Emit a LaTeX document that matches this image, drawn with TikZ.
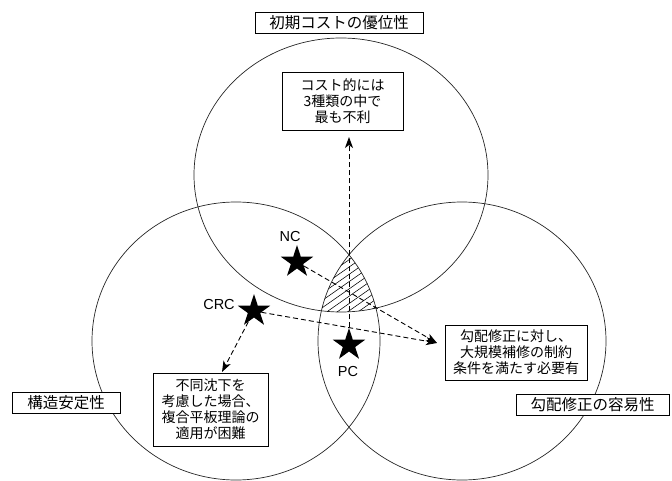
\documentclass[tikz,border=0pt]{standalone}
\usepackage{fontspec}
\setmainfont{Noto Sans CJK JP}
\newfontfamily\latinfont{Liberation Sans}
\usetikzlibrary{shapes.geometric,arrows.meta}
\begin{document}
\begin{tikzpicture}[x=1pt,y=-1pt,
  box/.style={draw, fill=white, line width=0.7pt, inner sep=0pt, align=center},
  lbl/.style={box, font=\fontsize{15.5}{18}\selectfont, minimum height=21pt},
  cmt/.style={box, font=\fontsize{14}{16}\selectfont},
  starnode/.style={star, star points=5, star point ratio=2.618, fill=black, minimum size=34pt, inner sep=0pt},
  tag/.style={font=\latinfont\fontsize{14.5}{16}\selectfont, inner sep=0pt},
  arr/.style={line width=0.9pt, dash pattern=on 5pt off 3pt, -{Stealth[length=11pt,width=8pt,inset=3pt]}},
  ring/.style={line width=0.7pt, draw=black!85},
  hatch/.style={line width=0.55pt}]
\useasboundingbox (0,0) rectangle (672,481);

% circles
\draw[ring] (341,175) ellipse [x radius=147, y radius=137];
\draw[ring] (236,341) ellipse [x radius=144, y radius=139];
\draw[ring] (462,341) ellipse [x radius=144, y radius=139];

% hatched common region
\begin{scope}
  \clip (341,175) ellipse [x radius=147, y radius=137];
  \clip (236,341) ellipse [x radius=144, y radius=139];
  \clip (462,341) ellipse [x radius=144, y radius=139];
  \foreach \c in {250,257.3,...,392} \draw[hatch] (290,\c) -- (410,\c-84);
\end{scope}

% labels
\node[lbl, minimum width=168pt] (title) at (339,22.5) {初期コストの優位性};
\node[lbl, minimum width=108pt] (kozo) at (66,402.5) {構造安定性};
\node[lbl, minimum width=153pt] (kobai) at (592.5,404.5) {勾配修正の容易性};

% comment boxes
\node[cmt, minimum width=121pt, minimum height=58pt] (cost) at (342.5,101) {コスト的には\\3種類の中で\\最も不利};
\node[cmt, minimum width=142pt, minimum height=55pt] (gm) at (516,352.5) {勾配修正に対し、\\大規模補修の制約\\条件を満たす必要有};
\node[cmt, minimum width=115pt, minimum height=73pt] (fd) at (210.5,409.5) {不同沈下を\\考慮した場合、\\複合平板理論の\\適用が困難};

% stars
\node[starnode] (nc) at (297,262) {};
\node[starnode] (crc) at (254,311) {};
\node[starnode] (pc) at (349,345) {};
\node[tag] (nct) at (290,237) {NC};
\node[tag] (crct) at (219,305) {CRC};
\node[tag] (pct) at (348,372) {PC};

% arrow targets
\coordinate (gmtip) at (437,343);
\coordinate (fdtip) at (222,372);
\coordinate (costtip) at (349,137);

% arrows
\draw[arr] (pc) -- (costtip);
\draw[arr] (nc) -- (gmtip);
\draw[arr] (crc) -- (gmtip);
\draw[arr] (crc) -- (fdtip);
\end{tikzpicture}
\end{document}
